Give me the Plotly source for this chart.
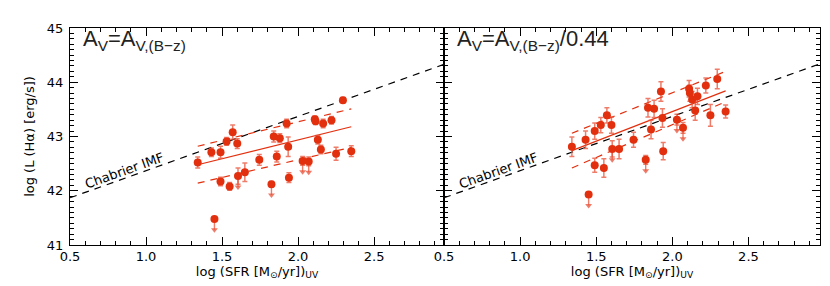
import plotly.graph_objects as go

# ---- data ----
sfr_uv = [1.34, 1.43, 1.45, 1.49, 1.49, 1.53, 1.55, 1.57, 1.60, 1.605, 1.65,
          1.745, 1.825, 1.84, 1.86, 1.88, 1.925, 1.935, 1.94, 2.03, 2.07,
          2.11, 2.115, 2.13, 2.15, 2.165, 2.22, 2.25, 2.295, 2.35]

lha_left = [42.52, 42.71, 41.48, 42.71, 42.17, 42.91, 42.08, 43.08, 42.87, 42.27, 42.34,
            42.57, 42.12, 43.00, 42.63, 42.97, 43.24, 42.81, 42.24, 42.55, 42.54,
            43.32, 43.28, 42.94, 42.76, 43.24, 43.30, 42.68, 43.67, 42.73]
err_left = [0.10, 0.08, 0.0, 0.11, 0.08, 0.07, 0.07, 0.13, 0.09, 0.15, 0.17,
            0.10, 0.05, 0.10, 0.10, 0.08, 0.08, 0.18, 0.09, 0.08, 0.08,
            0.06, 0.06, 0.08, 0.08, 0.08, 0.07, 0.12, 0.05, 0.10]

lha_right = [42.81, 42.94, 41.93, 43.10, 42.47, 43.21, 42.42, 43.39, 43.21, 42.77, 42.77,
             42.94, 42.57, 43.53, 43.13, 43.51, 43.83, 43.34, 42.73, 43.31, 43.16,
             43.88, 43.80, 43.68, 43.48, 43.74, 43.94, 43.39, 44.06, 43.46]
err_right = [0.18, 0.16, 0.0, 0.15, 0.13, 0.14, 0.17, 0.14, 0.15, 0.15, 0.18,
             0.14, 0.08, 0.17, 0.17, 0.16, 0.18, 0.17, 0.16, 0.10, 0.10,
             0.15, 0.15, 0.15, 0.18, 0.15, 0.14, 0.20, 0.18, 0.12]

upper_limit = [0, 0, 1, 0, 0, 0, 0, 0, 0, 1, 0,
               0, 1, 0, 0, 0, 0, 0, 0, 1, 1,
               0, 0, 0, 0, 0, 0, 0, 0, 0]
ul_arrow_len = 0.2  # dex, length of upper-limit arrows

fit_x = [1.34, 2.35]
fit_left = [42.48, 43.18]
fit_left_hi = [42.82, 43.51]
fit_left_lo = [42.14, 42.80]
fit_right = [42.74, 43.84]
fit_right_hi = [43.06, 44.20]
fit_right_lo = [42.42, 43.64]

chab_x = [0.5, 2.98]
chab_offset = 41.37  # log L(Ha) = log SFR + offset

panel_titles = ["A<sub>V</sub>=A<sub>V,(B\u2212z)</sub>",
                "A<sub>V</sub>=A<sub>V,(B\u2212z)</sub>/0.44"]

RED = "#e2300f"
ERRC = "rgba(232,80,55,0.75)"
FONT = "DejaVu Sans"
TFONT = "Liberation Sans"

fig = go.Figure()

panels = [
    ("x", "y", lha_left, err_left, fit_left, fit_left_hi, fit_left_lo),
    ("x2", "y2", lha_right, err_right, fit_right, fit_right_hi, fit_right_lo),
]

annotations = []
for i, (xa, ya, lha, err, fit, hi, lo) in enumerate(panels):
    # Chabrier line
    fig.add_trace(go.Scatter(x=chab_x, y=[v + chab_offset for v in chab_x],
                             mode="lines", xaxis=xa, yaxis=ya,
                             line=dict(color="black", width=1.2, dash="7px,6px"),
                             showlegend=False, hoverinfo="skip"))
    # fit lines
    fig.add_trace(go.Scatter(x=fit_x, y=fit, mode="lines", xaxis=xa, yaxis=ya,
                             line=dict(color=RED, width=1.2), showlegend=False))
    for yy in (hi, lo):
        fig.add_trace(go.Scatter(x=fit_x, y=yy, mode="lines", xaxis=xa, yaxis=ya,
                                 line=dict(color=RED, width=1.2, dash="7px,6px"),
                                 showlegend=False))
    # upper-limit arrows (shaft + head), built from the data
    sx, sy, hx, hy = [], [], [], []
    for xv, yv, ul in zip(sfr_uv, lha, upper_limit):
        if ul:
            sx += [xv, xv, None]
            sy += [yv, yv - ul_arrow_len, None]
            hx.append(xv)
            hy.append(yv - ul_arrow_len)
    fig.add_trace(go.Scatter(x=sx, y=sy, mode="lines", xaxis=xa, yaxis=ya,
                             line=dict(color=ERRC, width=1.4), showlegend=False,
                             hoverinfo="skip"))
    fig.add_trace(go.Scatter(x=hx, y=hy, mode="markers", xaxis=xa, yaxis=ya,
                             marker=dict(symbol="triangle-down", size=6, color=ERRC,
                                         line=dict(width=0)),
                             showlegend=False, hoverinfo="skip"))
    # points
    fig.add_trace(go.Scatter(x=sfr_uv, y=lha, mode="markers", xaxis=xa, yaxis=ya,
                             marker=dict(color=RED, size=8, line=dict(width=0)),
                             error_y=dict(type="data", array=err, color=ERRC,
                                          thickness=1.5, width=2.5),
                             showlegend=False))
    # Chabrier label
    cx = 0.86
    annotations.append(dict(x=cx, y=cx + chab_offset + 0.15, xref=xa, yref=ya,
                            text="Chabrier IMF", showarrow=False, textangle=-19.6,
                            font=dict(family=FONT, size=13, color="black")))
    # panel title
    dom = "x domain" if xa == "x" else "x2 domain"
    ydom = "y domain" if ya == "y" else "y2 domain"
    annotations.append(dict(x=0.03, y=0.945, xref=dom, yref=ydom,
                            xanchor="left", yanchor="middle", showarrow=False,
                            text=panel_titles[i],
                            font=dict(family=TFONT, size=22, color="#222")))

axis_common = dict(showline=True, linecolor="black", linewidth=1.2, mirror="ticks",
                   ticks="inside", ticklen=8, tickcolor="black", tickwidth=1,
                   showgrid=False, zeroline=False,
                   tickfont=dict(family=FONT, size=13, color="black"))

xtitle = "log (SFR [M<sub>\u2299</sub>/yr])<sub>UV</sub>"
tvals = [0.5, 1.0, 1.5, 2.0, 2.5]
ttext = ["0.5", "1.0", "1.5", "2.0", "2.5"]

fig.update_layout(
    width=830, height=286,
    margin=dict(l=62, r=18, t=20, b=49),
    plot_bgcolor="white", paper_bgcolor="white",
    annotations=annotations,
    xaxis=dict(domain=[0, 0.4987], range=[0.5, 2.96], tickvals=tvals, ticktext=ttext,
               ticklabelstandoff=-1,
               minor=dict(ticks="inside", ticklen=4, dtick=0.1, tick0=0.5, tickcolor="black"),
               title=dict(text=xtitle, font=dict(family=FONT, size=13, color="black"), standoff=2),
               **axis_common),
    xaxis2=dict(domain=[0.4987, 1], range=[0.5, 2.97], tickvals=tvals, ticktext=ttext,
                ticklabelstandoff=-1,
                minor=dict(ticks="inside", ticklen=4, dtick=0.1, tick0=0.5, tickcolor="black"),
                title=dict(text=xtitle, font=dict(family=FONT, size=13, color="black"), standoff=2),
                **axis_common),
    yaxis=dict(range=[41, 45], dtick=1, anchor="x", ticklabelstandoff=3,
               minor=dict(ticks="inside", ticklen=4, dtick=0.1, tickcolor="black"),
               title=dict(text="log (L (H\u03b1) [erg/s])", font=dict(family=FONT, size=13, color="black"),
                          standoff=9),
               **axis_common),
    yaxis2=dict(range=[41, 45], dtick=1, anchor="x2", showticklabels=False,
                minor=dict(ticks="inside", ticklen=4, dtick=0.1, tickcolor="black"),
                **axis_common),
)

fig.write_html("out.html")
